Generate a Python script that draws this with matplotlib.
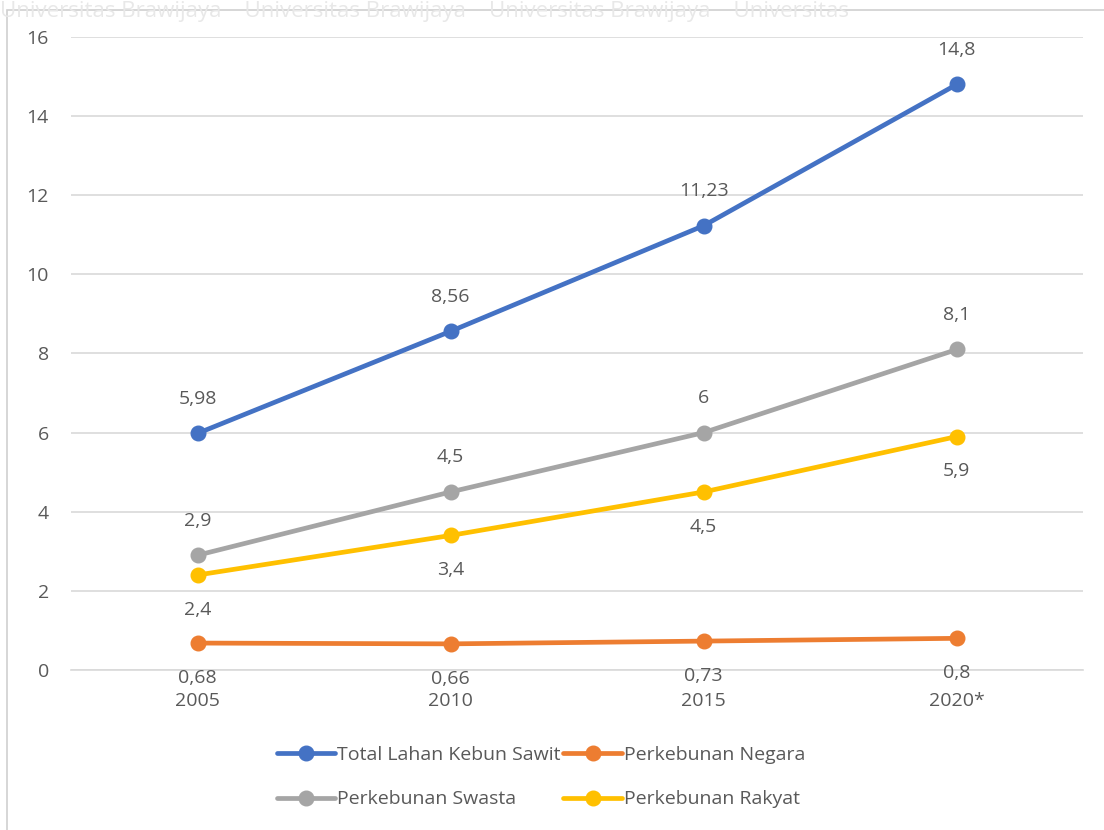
import matplotlib
matplotlib.use('Agg')
from matplotlib import pyplot as plt
from matplotlib.patches import Rectangle

plt.rcParams['font.family'] = ['Open Sans', 'DejaVu Sans']

years = ['2005', '2010', '2015', '2020*']
total = [5.98, 8.56, 11.23, 14.8]
negara = [0.68, 0.66, 0.73, 0.8]
swasta = [2.9, 4.5, 6, 8.1]
rakyat = [2.4, 3.4, 4.5, 5.9]

series = [
    ('Total Lahan Kebun Sawit', total, '#4472C4', 'above'),
    ('Perkebunan Negara', negara, '#ED7D31', 'below'),
    ('Perkebunan Swasta', swasta, '#A5A5A5', 'above'),
    ('Perkebunan Rakyat', rakyat, '#FFC000', 'below'),
]

txt = '#595959'

fig = plt.figure(figsize=(11.04, 8.3), dpi=100)
ax = fig.add_axes([0.0643, 0.1928, 0.917, 0.7627])

# faint frame and watermark like the scanned page
fig.patches.append(Rectangle((0.006, -0.01), 1.2, 1.004 - 0.006, transform=fig.transFigure,
                             fill=False, edgecolor='#d0d0d0', linewidth=1.2))
fig.text(0.0, 0.999, 'Universitas Brawijaya    Universitas Brawijaya    Universitas Brawijaya    Universitas',
         fontsize=16, color='#e8e8e8', va='top', ha='left')

x = list(range(len(years)))
handles = {}
for name, vals, col, pos in series:
    h, = ax.plot(x, vals, color=col, linewidth=3.4, marker='o', markersize=10.5,
                 label=name, solid_capstyle='round', zorder=3)
    handles[name] = h
    for xi, v in zip(x, vals):
        lab = f'{v:g}'.replace('.', ',')
        dy = 25 if pos == 'above' else -25
        ax.annotate(lab, (xi, v), xytext=(0, dy), textcoords='offset points',
                    ha='center', va='center', fontsize=14, color=txt)

ax.set_xlim(-0.5, 3.5)
ax.set_ylim(0, 16)
ax.set_yticks(range(0, 17, 2))
ax.set_xticks(x)
ax.set_xticklabels(years)
ax.grid(axis='y', color='#d9d9d9', linewidth=1.2)
ax.set_axisbelow(True)
for s in ['top', 'right', 'left']:
    ax.spines[s].set_visible(False)
ax.spines['bottom'].set_color('#d9d9d9')
ax.spines['bottom'].set_linewidth(1.2)
ax.tick_params(axis='both', length=0, labelsize=14, labelcolor=txt)
ax.tick_params(axis='x', pad=16)
ax.tick_params(axis='y', pad=16)

# legend filled row by row like the original
order = ['Total Lahan Kebun Sawit', 'Perkebunan Swasta', 'Perkebunan Negara', 'Perkebunan Rakyat']
leg = fig.legend(handles=[handles[n] for n in order], loc='upper center',
                 bbox_to_anchor=(0.49, 0.122), ncol=2, frameon=False, fontsize=14,
                 handlelength=3.0, handletextpad=0.1, columnspacing=0.15, labelspacing=1.35)
for t in leg.get_texts():
    t.set_color(txt)

fig.savefig('out.png', dpi=100, facecolor='white')
